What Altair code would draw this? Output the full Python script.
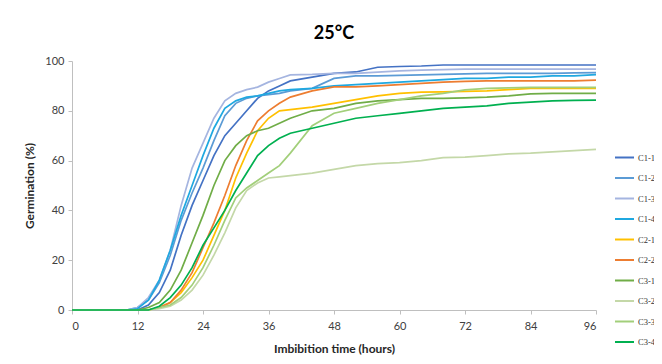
import altair as alt
import pandas as pd

hours = [0, 10, 12, 14, 16, 18, 20, 22, 24, 26, 28, 30, 32, 34, 36, 38, 40,
         44, 48, 52, 56, 60, 64, 68, 72, 76, 80, 84, 88, 92, 96]

series = ["C1-1", "C1-2", "C1-3", "C1-4", "C2-1", "C2-2", "C3-1", "C3-2", "C3-3", "C3-4"]
colors = ["#4472C4", "#5B9BD5", "#A5B5E0", "#1FA8E0", "#FFC000", "#ED7D31",
          "#70AD47", "#C4D8A8", "#A2CF7A", "#00B050"]

c1_1 = [0, 0, 0, 2, 7, 16, 30, 42, 52, 62, 70, 75, 80, 85, 88, 90, 92,
        93.5, 95, 95.6, 97.5, 97.8, 98, 98.4, 98.4, 98.4, 98.4, 98.4, 98.4, 98.4, 98.4]
c1_2 = [0, 0, 1, 4, 11, 22, 36, 47, 57, 68, 78, 83, 85, 86, 86.5, 87, 88,
        89, 93, 94, 94, 94.2, 94.4, 94.6, 94.8, 95, 95, 95, 95, 95.2, 95.3]
c1_3 = [0, 0, 1, 5, 12, 24, 42, 57, 67, 77, 84, 87, 88.5, 89.5, 91.5, 93, 94.4,
        94.6, 95, 95, 95.5, 96, 96.3, 96.5, 96.7, 96.7, 96.7, 96.7, 96.7, 96.7, 96.7]
c1_4 = [0, 0, 0.5, 4, 12, 24, 38, 50, 62, 73, 81, 84, 85.5, 86, 87, 88, 88.5,
        89, 90, 90.5, 91, 91.5, 92, 92.5, 93, 93, 93.5, 93.5, 94, 94, 94.5]
c2_1 = [0, 0, 0, 0, 1, 3, 7, 13, 20, 30, 40, 53, 63, 72, 77, 80, 80.5,
        81.5, 83, 84.5, 86, 87, 87.5, 87.6, 87.8, 88, 88.5, 89, 89, 89, 89]
c2_2 = [0, 0, 0, 0, 1, 3, 8, 15, 25, 35, 46, 58, 68, 76, 80, 83, 85.5,
        88, 89.6, 89.6, 90, 90.5, 91, 91.5, 91.8, 92, 92, 92, 92, 92, 92.3]
c3_1 = [0, 0, 0, 1, 3, 8, 16, 27, 38, 50, 60, 66, 70, 72, 73, 75, 77,
        80, 81, 83, 84, 84.5, 85, 85, 85.2, 85.5, 86, 86.8, 87, 87, 87]
c3_2 = [0, 0, 0, 0, 0.5, 1.5, 4, 8, 14, 22, 31, 41, 48, 51, 53, 53.5, 54,
        55, 56.5, 58, 58.8, 59.2, 60, 61.2, 61.4, 62, 62.7, 63, 63.5, 64, 64.5]
c3_3 = [0, 0, 0, 0, 1, 2, 5, 10, 17, 26, 36, 45, 49, 52, 55, 58, 63,
        74, 79, 81, 83, 84.5, 86, 87, 88.4, 89, 89.2, 89.4, 89.4, 89.4, 89.4]
c3_4 = [0, 0, 0, 0, 1.5, 5, 10, 17, 26, 33, 40, 48, 55, 62, 66, 69, 71,
        73, 75, 77, 78, 79, 80, 81, 81.5, 82, 83, 83.5, 84, 84.2, 84.3]

values = [c1_1, c1_2, c1_3, c1_4, c2_1, c2_2, c3_1, c3_2, c3_3, c3_4]

rows = []
for name, vals in zip(series, values):
    for t, v in zip(hours, vals):
        rows.append({"series": name, "time": t, "germ": v})
df = pd.DataFrame(rows)

chart = alt.Chart(df).mark_line(strokeWidth=1.7).encode(
    x=alt.X("time:Q",
            scale=alt.Scale(domain=[0, 96], nice=False),
            axis=alt.Axis(values=list(range(0, 97, 12)), title="Imbibition time (hours)",
                          grid=False, tickSize=4, labelPadding=6, titlePadding=12)),
    y=alt.Y("germ:Q",
            scale=alt.Scale(domain=[0, 100], nice=False),
            axis=alt.Axis(values=[0, 20, 40, 60, 80, 100], title="Germination (%)",
                          grid=False, tickSize=4, labelPadding=4, titlePadding=8)),
    color=alt.Color("series:N",
                    scale=alt.Scale(domain=series, range=colors),
                    legend=alt.Legend(title=None, orient="none", legendX=542, legendY=86,
                                      symbolType="stroke", symbolSize=361,
                                      symbolStrokeWidth=2, labelFont="Liberation Serif",
                                      labelFontSize=8.5, labelColor="#333333",
                                      rowPadding=5.5, labelOffset=3)),
).properties(
    width=524, height=249,
    title=alt.TitleParams("25°C", fontSize=18, font="Lato", fontWeight="bold",
                          anchor="middle", offset=12, color="#000000"),
    autosize=alt.AutoSizeParams(type="none"),
    padding={"left": 64, "top": 53, "right": 58, "bottom": 46},
).configure_axis(
    domainColor="#BFBFBF", tickColor="#BFBFBF", labelColor="#404040",
    labelFont="Lato", labelFontSize=11, titleFont="Lato", titleFontSize=12,
    titleFontWeight="bold", titleColor="#262626",
).configure_view(stroke=None)

chart.save("out.html", embed_options={"renderer": "svg", "actions": False})
